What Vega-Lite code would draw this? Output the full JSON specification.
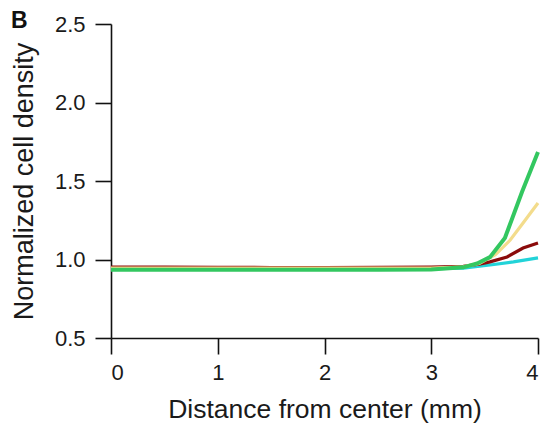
{
  "$schema": "https://vega.github.io/schema/vega-lite/v6.json",
  "width": 427,
  "height": 314,
  "autosize": {"type": "none"},
  "padding": {"left": 111, "top": 24, "right": 9, "bottom": 92},
  "background": "white",
  "title": {"text": "B", "anchor": "start", "frame": "bounds", "baseline": "alphabetic", "offset": 0, "dy": 38, "dx": 1},
  "config": {
    "view": {"stroke": null},
    "font": "Liberation Sans",
    "title": {"fontSize": 23, "fontWeight": "bold", "font": "Liberation Sans", "color": "#111"},
    "axis": {
      "grid": false,
      "domainColor": "#111",
      "domainWidth": 1.6,
      "tickColor": "#111",
      "tickWidth": 1.6,
      "tickSize": 16,
      "labelFontSize": 22,
      "labelColor": "#1a1a1a",
      "labelFont": "Liberation Sans",
      "titleFont": "Liberation Sans",
      "titleFontWeight": "normal",
      "titleColor": "#1a1a1a"
    }
  },
  "data": {"values": [
    {"series": "cyan", "x": 0, "y": 0.94}, {"series": "cyan", "x": 0.5, "y": 0.94}, {"series": "cyan", "x": 1, "y": 0.94}, {"series": "cyan", "x": 1.5, "y": 0.94}, {"series": "cyan", "x": 2, "y": 0.94}, {"series": "cyan", "x": 2.5, "y": 0.94}, {"series": "cyan", "x": 3, "y": 0.941}, {"series": "cyan", "x": 3.3, "y": 0.945}, {"series": "cyan", "x": 3.55, "y": 0.965}, {"series": "cyan", "x": 3.77, "y": 0.985}, {"series": "cyan", "x": 4, "y": 1.01},
    {"series": "red", "x": 0, "y": 0.952}, {"series": "red", "x": 0.5, "y": 0.951}, {"series": "red", "x": 1, "y": 0.95}, {"series": "red", "x": 1.5, "y": 0.949}, {"series": "red", "x": 2, "y": 0.949}, {"series": "red", "x": 2.5, "y": 0.95}, {"series": "red", "x": 3, "y": 0.952}, {"series": "red", "x": 3.3, "y": 0.957}, {"series": "red", "x": 3.45, "y": 0.97}, {"series": "red", "x": 3.55, "y": 0.985}, {"series": "red", "x": 3.71, "y": 1.016}, {"series": "red", "x": 3.86, "y": 1.073}, {"series": "red", "x": 4, "y": 1.105},
    {"series": "yellow", "x": 0, "y": 0.945}, {"series": "yellow", "x": 0.5, "y": 0.945}, {"series": "yellow", "x": 1, "y": 0.945}, {"series": "yellow", "x": 1.5, "y": 0.945}, {"series": "yellow", "x": 2, "y": 0.945}, {"series": "yellow", "x": 2.5, "y": 0.945}, {"series": "yellow", "x": 3, "y": 0.946}, {"series": "yellow", "x": 3.3, "y": 0.953}, {"series": "yellow", "x": 3.45, "y": 0.975}, {"series": "yellow", "x": 3.6, "y": 1.03}, {"series": "yellow", "x": 3.74, "y": 1.124}, {"series": "yellow", "x": 3.86, "y": 1.232}, {"series": "yellow", "x": 4, "y": 1.36},
    {"series": "green", "x": 0, "y": 0.935}, {"series": "green", "x": 0.5, "y": 0.935}, {"series": "green", "x": 1, "y": 0.935}, {"series": "green", "x": 1.5, "y": 0.935}, {"series": "green", "x": 2, "y": 0.935}, {"series": "green", "x": 2.5, "y": 0.935}, {"series": "green", "x": 3, "y": 0.937}, {"series": "green", "x": 3.3, "y": 0.95}, {"series": "green", "x": 3.43, "y": 0.975}, {"series": "green", "x": 3.55, "y": 1.015}, {"series": "green", "x": 3.69, "y": 1.137}, {"series": "green", "x": 3.85, "y": 1.43}, {"series": "green", "x": 4, "y": 1.685}
  ]},
  "encoding": {
    "x": {"field": "x", "type": "quantitative", "scale": {"domain": [0, 4], "nice": false},
      "axis": {"values": [0, 1, 2, 3, 4], "title": "Distance from center (mm)", "titleFontSize": 26.5, "labelPadding": 8, "titleBaseline": "alphabetic", "titleY": 79}},
    "y": {"field": "y", "type": "quantitative", "scale": {"domain": [0.5, 2.5], "nice": false, "zero": false},
      "axis": {"values": [0.5, 1, 1.5, 2, 2.5], "format": ".1f", "title": "Normalized cell density", "titleFontSize": 27, "labelPadding": 10, "titleBaseline": "alphabetic", "titleX": -79}}
  },
  "layer": [
    {"transform": [{"filter": "datum.series === 'cyan'"}], "mark": {"type": "line", "color": "#22D3D8", "strokeWidth": 3.2}},
    {"transform": [{"filter": "datum.series === 'red'"}], "mark": {"type": "line", "color": "#8B0B0B", "strokeWidth": 3.2}},
    {"transform": [{"filter": "datum.series === 'yellow'"}], "mark": {"type": "line", "color": "#F3DC8C", "strokeWidth": 3.2}},
    {"transform": [{"filter": "datum.series === 'green'"}], "mark": {"type": "line", "color": "#33C760", "strokeWidth": 4}}
  ]
}
